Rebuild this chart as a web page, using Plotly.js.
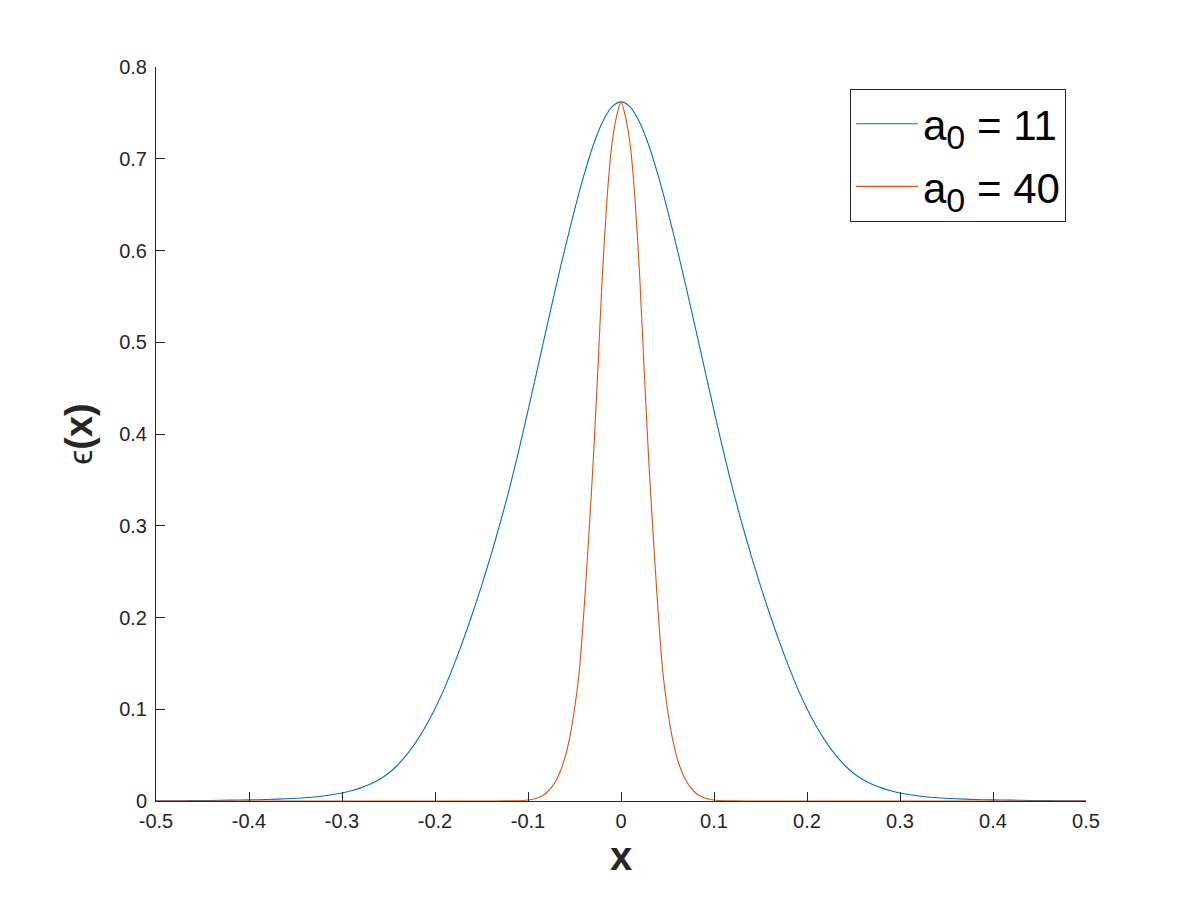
<!DOCTYPE html>
<html>
<head>
<meta charset="utf-8">
<script src="https://cdn.plot.ly/plotly-3.0.1.min.js"></script>
<style>html,body{margin:0;padding:0;background:#fff;}#chart{width:1200px;height:900px;}</style>
</head>
<body>
<div id="chart"></div>
<script>
// ---- data ----
const xBlue = [-0.50,-0.48,-0.46,-0.44,-0.42,-0.40,-0.38,-0.36,-0.34,-0.32,-0.30,-0.29,-0.28,-0.27,-0.26,-0.25,-0.24,-0.23,-0.22,-0.21,-0.20,-0.19,-0.18,-0.17,-0.16,-0.15,-0.14,-0.13,-0.12,-0.11,-0.10,-0.09,-0.08,-0.07,-0.06,-0.05,-0.04,-0.03,-0.02,-0.01,0.00,0.01,0.02,0.03,0.04,0.05,0.06,0.07,0.08,0.09,0.10,0.11,0.12,0.13,0.14,0.15,0.16,0.17,0.18,0.19,0.20,0.21,0.22,0.23,0.24,0.25,0.26,0.27,0.28,0.29,0.30,0.32,0.34,0.36,0.38,0.40,0.42,0.44,0.46,0.48,0.50];
const yBlue = [0.0002,0.0003,0.0004,0.0006,0.0009,0.0012,0.0017,0.0024,0.0035,0.0055,0.0088,0.0112,0.0143,0.0183,0.0235,0.0303,0.0395,0.0510,0.0650,0.0815,0.1005,0.1225,0.1475,0.1745,0.2035,0.2345,0.2675,0.3025,0.3405,0.3815,0.4255,0.4705,0.5157,0.5602,0.6032,0.6440,0.6815,0.7142,0.7398,0.7563,0.762,0.7563,0.7398,0.7142,0.6815,0.6440,0.6032,0.5602,0.5157,0.4705,0.4255,0.3815,0.3405,0.3025,0.2675,0.2345,0.2035,0.1745,0.1475,0.1225,0.1005,0.0815,0.0650,0.0510,0.0395,0.0303,0.0235,0.0183,0.0143,0.0112,0.0088,0.0055,0.0035,0.0024,0.0017,0.0012,0.0009,0.0006,0.0004,0.0003,0.0002];
const xRed = [-0.50,-0.40,-0.30,-0.20,-0.15,-0.12,-0.11,-0.10,-0.095,-0.09,-0.085,-0.08,-0.075,-0.07,-0.065,-0.06,-0.055,-0.05,-0.045,-0.04,-0.035,-0.03,-0.025,-0.02,-0.015,-0.01,-0.005,0.00,0.005,0.01,0.015,0.02,0.025,0.03,0.035,0.04,0.045,0.05,0.055,0.06,0.065,0.07,0.075,0.08,0.085,0.09,0.095,0.10,0.11,0.12,0.15,0.20,0.30,0.40,0.50];
const yRed = [0,0,0,0,0,0.0001,0.0003,0.0011,0.002,0.0033,0.0055,0.009,0.0145,0.022,0.033,0.048,0.070,0.100,0.140,0.205,0.283,0.368,0.468,0.574,0.657,0.714,0.745,0.762,0.745,0.714,0.657,0.574,0.468,0.368,0.283,0.205,0.140,0.100,0.070,0.048,0.033,0.022,0.0145,0.009,0.0055,0.0033,0.002,0.0011,0.0003,0.0001,0,0,0,0,0];
const seriesNames = ["a<sub><span style='font-size:34px'>0</span></sub> = 11", "a<sub><span style='font-size:34px'>0</span></sub> = 40"];
const xTickVals = [-0.5,-0.4,-0.3,-0.2,-0.1,0,0.1,0.2,0.3,0.4,0.5];
const xTickText = ["-0.5","-0.4","-0.3","-0.2","-0.1","0","0.1","0.2","0.3","0.4","0.5"];
const yTickVals = [0,0.1,0.2,0.3,0.4,0.5,0.6,0.7,0.8];
const yTickText = ["0","0.1","0.2","0.3","0.4","0.5","0.6","0.7","0.8"];

const FONT = "'Liberation Sans', Arial, Helvetica, sans-serif";
const AX = "#262626";

const traces = [
  {x: xBlue, y: yBlue, mode: "lines", name: seriesNames[0], legendgroup: "g1", line: {color: "#0072BD", width: 1.1, shape: "spline", smoothing: 0.8}},
  {x: xRed, y: yRed, mode: "lines", name: seriesNames[1], legendgroup: "g2", line: {color: "#D95319", width: 1.1, shape: "spline", smoothing: 0.6}}
];

const layout = {
  width: 1200, height: 900,
  paper_bgcolor: "#fff", plot_bgcolor: "#fff",
  margin: {l: 156, r: 114, t: 67, b: 99, pad: 0},
  font: {family: FONT, color: AX, size: 20},
  showlegend: true,
  xaxis: {
    range: [-0.5, 0.5], tickvals: xTickVals, ticktext: xTickText,
    showgrid: false, zeroline: false, showline: true, linecolor: AX, linewidth: 1,
    ticks: "inside", ticklen: 9, tickcolor: AX, tickwidth: 1, ticklabelstandoff: 2,
    tickfont: {family: FONT, size: 20, color: AX},
    title: {text: "<b>x</b>", font: {family: FONT, size: 40, color: AX}, standoff: 10},
    mirror: false, fixedrange: true
  },
  yaxis: {
    range: [0, 0.8], tickvals: yTickVals, ticktext: yTickText,
    showgrid: false, zeroline: false, showline: true, linecolor: AX, linewidth: 1,
    ticks: "inside", ticklen: 9, tickcolor: AX, tickwidth: 1, ticklabelstandoff: 4,
    tickfont: {family: FONT, size: 20, color: AX},
    title: {text: "<span style='font-size:34px;font-weight:normal'>ϵ</span><b>(x)</b>", font: {family: FONT, size: 38, color: AX}, standoff: 14},
    mirror: false, fixedrange: true
  },
  legend: {
    x: 0.9785, y: 0.970, xanchor: "right", yanchor: "top",
    bgcolor: "#fff", bordercolor: "#262626", borderwidth: 1,
    font: {family: FONT, size: 42, color: "#000"},
    itemwidth: 62, tracegroupgap: 5
  }
};

Plotly.newPlot("chart", traces, layout, {staticPlot: true, displayModeBar: false});
</script>
</body>
</html>
